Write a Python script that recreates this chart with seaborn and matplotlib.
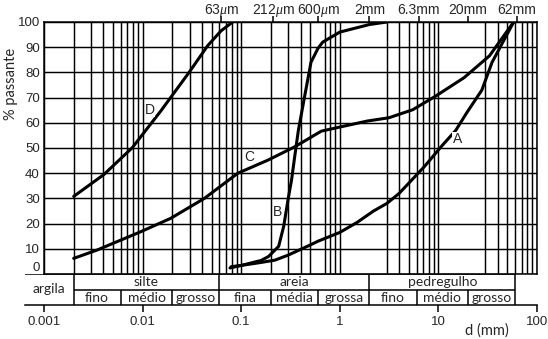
import numpy as np
import pandas as pd
import matplotlib
matplotlib.use("Agg")
import matplotlib.pyplot as plt
import matplotlib.transforms as mtransforms
from matplotlib.ticker import NullFormatter, NullLocator
import seaborn as sns

# ---- data: grain size distribution curves (d in mm, % passing) ----
curve_A_d = [0.079, 0.1, 0.16, 0.22, 0.3, 0.5, 0.6, 1.0, 1.5, 2.2, 3.0, 4.0, 7.2, 10.7, 15, 19.4, 27.6, 35, 58]
curve_A_p = [2.9, 3.4, 4.6, 5.5, 7.5, 11.5, 13, 16.5, 20.5, 25, 28, 32, 42.6, 50.6, 57, 64, 73, 84, 100]

curve_B_d = [0.077, 0.1, 0.16, 0.19, 0.22, 0.24, 0.27, 0.3, 0.324, 0.35, 0.38, 0.44, 0.51, 0.6, 0.67, 1.0, 2.0, 3.0]
curve_B_p = [2.4, 3.4, 5.4, 7, 9.5, 11, 19, 30, 37.3, 47, 57, 70.5, 84, 89.5, 92, 96, 99, 100]

curve_C_d = [0.002, 0.00345, 0.0096, 0.0193, 0.0423, 0.0925, 0.187, 0.35, 0.65, 1.9, 3.15, 5.5, 9.3, 18.2, 33, 58]
curve_C_p = [6.2, 9.5, 16.8, 22.1, 30, 40, 45.2, 50.5, 56.7, 60.7, 62, 65.2, 70.5, 77.9, 86.6, 100]

curve_D_d = [0.002, 0.00403, 0.00785, 0.0153, 0.0296, 0.0457, 0.0625, 0.082]
curve_D_p = [30.8, 39.4, 50.1, 64.7, 80, 90.6, 96.5, 100]

curve_names = ["A", "B", "C", "D"]
curve_label_d = [15.5, 0.236, 0.121, 0.0118]
curve_label_p = [53.6, 24.5, 46.5, 65]

size_ticks = [0.063, 0.212, 0.6, 2, 6.3, 20, 62]
size_tick_labels = ["63$\\mu$m", "212$\\mu$m", "600$\\mu$m", "2mm", "6.3mm", "20mm", "62mm"]
y_ticks = list(range(0, 101, 10))
d_ticks = [0.001, 0.01, 0.1, 1, 10, 100]
d_tick_labels = ["0.001", "0.01", "0.1", "1", "10", "100"]

fractions = ["argila", "silte", "areia", "pedregulho"]
fraction_bounds = [0.002, 0.06, 2, 60]
subfractions = ["fino", "médio", "grosso", "fina", "média", "grossa", "fino", "médio", "grosso"]
sub_bounds = [0.002, 0.006, 0.02, 0.06, 0.2, 0.6, 2, 6, 20, 60]

# ---- style ----
sns.set_style("white")
plt.rcParams["font.family"] = ["Liberation Sans", "DejaVu Sans"]
plt.rcParams["mathtext.fontset"] = "custom"
plt.rcParams["mathtext.it"] = "Liberation Serif:italic"
plt.rcParams["mathtext.rm"] = "Liberation Sans"

W, H = 548, 339
fig = plt.figure(figsize=(W / 100, H / 100), dpi=100)

# main chart axes: x 44..537 px, y 22..274 px
ax = fig.add_axes([44 / W, 1 - 274 / H, 493 / W, 252 / H])

frames = []
for name, d, p in [("A", curve_A_d, curve_A_p), ("B", curve_B_d, curve_B_p),
                   ("C", curve_C_d, curve_C_p), ("D", curve_D_d, curve_D_p)]:
    frames.append(pd.DataFrame({"d": d, "passante": p, "curva": name}))
df = pd.concat(frames, ignore_index=True)

sns.lineplot(data=df, x="d", y="passante", units="curva", estimator=None,
             sort=False, color="black", lw=2.2, ax=ax, legend=False)

ax.set_xscale("log")
ax.set_xlim(0.001, 100)
ax.set_ylim(0, 100)
ax.set_xlabel("")
ax.set_ylabel("")

grid_x = [m * 10.0 ** e for e in range(-3, 2) for m in range(1, 10)] + [100]
ax.set_xticks(grid_x, minor=True)
ax.xaxis.set_minor_formatter(NullFormatter())
ax.set_xticks(size_ticks)
ax.set_xticklabels([])
ax.xaxis.set_ticks_position("top")
ax.tick_params(axis="x", which="major", direction="out", length=4, width=1.1,
               top=True, labeltop=False, bottom=False, labelbottom=False,
               color="black")
ax.tick_params(axis="x", which="minor", length=0, top=False, bottom=False)

# size labels above the chart
top_tr = mtransforms.blended_transform_factory(ax.transData, fig.transFigure)
for xv, lab in zip(size_ticks, size_tick_labels):
    ax.text(xv, 1 - 14 / H, lab, transform=top_tr, ha="center", va="baseline",
            fontsize=10, clip_on=False)

ax.set_yticks(y_ticks)
ax.tick_params(axis="y", length=0, pad=3, labelsize=9.5)
for t in ax.get_yticklabels():
    if t.get_text() == "0":
        t.set_va("bottom")

ax.grid(False)
ax.grid(True, which="minor", axis="x", color="black", lw=1.05)
ax.grid(True, which="major", axis="y", color="black", lw=1.05)
for s in ax.spines.values():
    s.set_color("black")
    s.set_linewidth(1.1)

for name, xd, yp in zip(curve_names, curve_label_d, curve_label_p):
    ax.text(xd, yp, name, ha="center", va="center", fontsize=10,
            bbox=dict(facecolor="white", edgecolor="none", pad=0.1))

# ---- classification table + d axis ----
xmin_tab = 10 ** (-3 - 19 / 98.6)
axt = fig.add_axes([25 / W, 1 - 305 / H, 512 / W, 31 / H])
axt.set_xscale("log")
axt.set_xlim(xmin_tab, 100)
axt.set_ylim(0, 2)
axt.patch.set_alpha(0)
for k in ["top", "right", "left"]:
    axt.spines[k].set_visible(False)
axt.spines["bottom"].set_color("black")
axt.spines["bottom"].set_linewidth(1.1)
axt.set_xticks(d_ticks)
axt.set_xticklabels(d_tick_labels)
axt.xaxis.set_minor_locator(NullLocator())
axt.set_yticks([])
axt.tick_params(axis="x", direction="out", length=5, width=1.1, pad=3,
                labelsize=9.5, color="black", bottom=True, labelbottom=True)

lk = dict(color="black", lw=1.1)
axt.hlines(2, xmin_tab, fraction_bounds[-1], **lk)
axt.hlines(1, sub_bounds[0], sub_bounds[-1], **lk)
axt.vlines(fraction_bounds, 0, 2, **lk)
axt.vlines([b for b in sub_bounds if b not in fraction_bounds], 0, 1, **lk)

tf = dict(family=["Lato", "DejaVu Sans"], fontsize=10, ha="center", va="center")
axt.text(np.sqrt(xmin_tab * fraction_bounds[0]), 1.05, fractions[0], **tf)
for i, name in enumerate(fractions[1:]):
    lo, hi = fraction_bounds[i], fraction_bounds[i + 1]
    axt.text(np.sqrt(lo * hi), 1.5, name, **tf)
for i, name in enumerate(subfractions):
    lo, hi = sub_bounds[i], sub_bounds[i + 1]
    axt.text(np.sqrt(lo * hi), 0.45, name, **tf)

fig.text(11 / W, 1 - 84 / H, "% passante", rotation=90, ha="center", va="center",
         fontsize=10.5, family=["Lato", "DejaVu Sans"])
fig.text(487 / W, 1 - 331 / H, "d (mm)", ha="center", va="center",
         fontsize=10.5, family=["Lato", "DejaVu Sans"])

fig.savefig("out.png", dpi=100)
